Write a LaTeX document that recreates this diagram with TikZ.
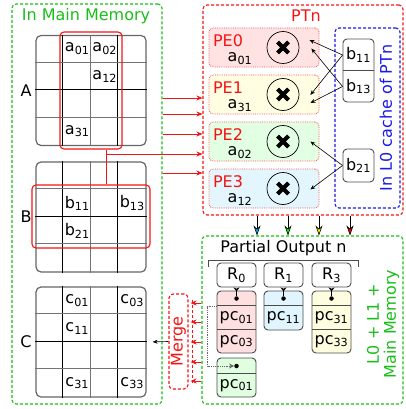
\documentclass[tikz,border=0pt]{standalone}
\usepackage{fontspec}
\setmainfont{DejaVu Sans}
\usetikzlibrary{arrows.meta, positioning, calc}
\definecolor{memgreen}{RGB}{25,190,25}
\definecolor{ptred}{RGB}{245,20,20}
\definecolor{l0blue}{RGB}{25,25,235}
\newcommand{\ix}[2]{#1\textsubscript{#2}}

\begin{document}
\begin{tikzpicture}[x=1pt, y=-1pt,
        font=\fontsize{16}{17}\selectfont,
        region/.style={rectangle, line width=1.1pt, rounded corners=4pt, dash pattern=on 3pt off 2pt},
        matbox/.style={rectangle, draw=black!60, line width=1.2pt, rounded corners=5pt, minimum size=110pt, inner sep=0pt},
        pick/.style={rectangle, draw=ptred, line width=1.1pt, rounded corners=4pt, inner sep=0pt},
        feed/.style={-{Stealth[length=6pt, width=5pt]}, ptred, line width=0.9pt},
        pebox/.style={rectangle, draw=ptred!75, densely dotted, line width=0.8pt, rounded corners=4pt, minimum width=110pt, minimum height=39pt},
        mult/.style={circle, draw=black, line width=0.7pt, minimum size=32pt, inner sep=0pt,
                     path picture={\draw[black, line width=4.2pt]
                        ($(path picture bounding box.center)+(-5.5pt,-5.5pt)$) -- ($(path picture bounding box.center)+(5.5pt,5.5pt)$)
                        ($(path picture bounding box.center)+(-5.5pt,5.5pt)$) -- ($(path picture bounding box.center)+(5.5pt,-5.5pt)$);}},
        bcellbox/.style={rectangle, draw=black!70, line width=0.9pt, rounded corners=4pt, minimum width=31pt, inner sep=0pt},
        bfeed/.style={-{Stealth[length=5pt, width=4pt]}, black, line width=0.6pt},
        rbox/.style={rectangle, draw=black!70, line width=0.9pt, rounded corners=4pt, fill=white, minimum width=39pt, minimum height=24pt, inner sep=0pt},
        pcblock/.style={rectangle, draw=black!70, line width=0.9pt, rounded corners=4pt, minimum width=39pt, inner sep=0pt},
        pcline/.style={black!70, line width=0.9pt},
        dot/.style={circle, fill=black, inner sep=0pt, minimum size=4.5pt},
        rlink/.style={{Stealth[length=4pt, width=6pt, reversed]}-, black, line width=0.8pt},
        mfeed/.style={-{Stealth[length=6pt, width=5pt]}, ptred, line width=0.8pt}
    ]
    \useasboundingbox (0,0) rectangle (405,409);

    % main memory side
    \node[region, draw=memgreen, minimum width=150pt, minimum height=400pt] (mainmem) at (87,204) {};
    \node[memgreen] (memtitle) at (86,16.5) {In Main Memory};

    \node[matbox] (matA) at (91,90.5) {};
    \node[matbox] (matB) at (91,217) {};
    \node[matbox] (matC) at (91,342) {};
    \foreach \m in {matA, matB, matC} {
        \foreach \k/\s in {1/black, 2/black!55, 3/black} {
            \draw[\s, line width=0.9pt] ($(\m.north west)+(27.5*\k,0)$) -- ($(\m.south west)+(27.5*\k,0)$);
        }
        \foreach \k/\s in {1/black!55, 2/black, 3/black!55} {
            \draw[\s, line width=0.9pt] ($(\m.north west)+(0,27.5*\k)$) -- ($(\m.north east)+(0,27.5*\k)$);
        }
    }
    \node (labA) at (26,90.5) {A};
    \node (labB) at (26,217) {B};
    \node (labC) at (26,342) {C};

    \node (a01) at (77.25,48.75) {\ix{a}{01}};
    \node (a02) at (104.75,48.75) {\ix{a}{02}};
    \node (a12) at (104.75,76.25) {\ix{a}{12}};
    \node (a31) at (77.25,131.25) {\ix{a}{31}};
    \node (b11) at (77.25,203.25) {\ix{b}{11}};
    \node (b13) at (132.25,203.25) {\ix{b}{13}};
    \node (b21) at (77.25,230.75) {\ix{b}{21}};
    \node (c01) at (77.25,300.75) {\ix{c}{01}};
    \node (c03) at (132.25,300.75) {\ix{c}{03}};
    \node (c11) at (77.25,328.25) {\ix{c}{11}};
    \node (c31) at (77.25,383.25) {\ix{c}{31}};
    \node (c33) at (132.25,383.25) {\ix{c}{33}};

    \node[pick, minimum width=62pt, minimum height=117pt] (pickA) at (91,90.5) {};
    \node[pick, minimum width=118pt, minimum height=63pt] (pickB) at (91,216.5) {};

    % PTn
    \node[region, draw=ptred, minimum width=200pt, minimum height=210pt] (ptn) at (303,110) {};
    \node[ptred] (ptntitle) at (306,16) {PTn};

    \coordinate (abjoin) at (106.5,154);
    \draw[ptred, line width=0.9pt] (abjoin |- pickA.south) -- (abjoin |- pickB.north);
    \draw[feed] (abjoin) -- (abjoin -| ptn.west);
    \foreach \y in {98,114,134,173} {
        \coordinate (tap) at (0,\y);
        \draw[feed] (mainmem.east |- tap) -- (ptn.west |- tap);
    }

    \foreach \i/\y/\c/\a in {0/47.5/red/01, 1/94.5/yellow/31, 2/141.5/green/02, 3/188.5/cyan/12} {
        \node[pebox, fill=\c!11] (pe\i) at (264,\y) {};
        \node[ptred] (pelab\i) at (228,\y-7) {PE\i};
        \node (pea\i) at (240,\y+11) {\ix{a}{\a}};
        \node[mult] (mul\i) at (283,\y) {};
    }

    \node[region, draw=l0blue, minimum width=65pt, minimum height=180pt] (cache) at (367.5,118) {};
    \node[l0blue, rotate=90] (cachetitle) at (386,118) {In L0 cache of PTn};

    \node[bcellbox, minimum height=63pt] (cbpair) at (358.5,70.5) {};
    \draw[pcline] (cbpair.west) -- (cbpair.east);
    \node (cb11) at (358.5,55) {\ix{b}{11}};
    \node (cb13) at (358.5,86.5) {\ix{b}{13}};
    \node[bcellbox, minimum height=33pt] (cb21) at (358.5,165.5) {\ix{b}{21}};

    \draw[bfeed] (cbpair.west |- cb11) -- ($(mul0.east)+(10,-7.5)$);
    \draw[bfeed] (cbpair.west |- cb11) -- ($(mul1.east)+(11,0.5)$);
    \draw[bfeed] (cbpair.west |- cb13) -- ($(mul0.east)+(12,1)$);
    \draw[bfeed] (cbpair.west |- cb13) -- ($(mul1.east)+(11,8.5)$);
    \draw[bfeed] (cb21.west) -- ($(mul2.east)+(11,0)$);
    \draw[bfeed] (cb21.west) -- ($(mul3.east)+(11,1)$);

    % partial output
    \node[region, draw=memgreen, minimum width=201pt, minimum height=168pt] (part) at (302.5,320) {};
    \node (parttitle) at (283.5,248.5) {Partial Output n};
    \node[memgreen, rotate=90, align=center] (partmem) at (383,324) {L0 + L1 +\\Main Memory};

    \foreach \x/\c in {257/cyan, 288/green, 319/yellow, 350/red} {
        \coordinate (tap) at (\x,0);
        \draw[-{Stealth[length=10pt, width=7pt, fill=\c]}, black, line width=0.6pt] (ptn.south -| tap) -- (part.north -| tap);
    }

    \draw[black!70, line width=1pt] (208,267) -- (208,260) -- (358,260) -- (358,267);

    \node[rbox] (r0) at (236.5,275) {\ix{R}{0}};
    \node[rbox] (r1) at (283.5,275) {\ix{R}{1}};
    \node[rbox] (r3) at (331.5,275) {\ix{R}{3}};

    \node[pcblock, fill=red!12, minimum height=62pt] (blk0) at (236.5,322) {};
    \node[pcblock, fill=cyan!12, minimum height=39pt] (blk1) at (283.5,310.5) {};
    \node[pcblock, fill=yellow!12, minimum height=62pt] (blk3) at (331.5,322) {};
    \node[pcblock, fill=green!12, minimum height=39pt] (blkm) at (236.5,377.5) {};
    \foreach \b in {blk0, blk1, blk3} {
        \draw[pcline] ($(\b.north west)+(0,15)$) -- ($(\b.north east)+(0,15)$);
    }
    \draw[pcline] ($(blk0.north west)+(0,39)$) -- ($(blk0.north east)+(0,39)$);
    \draw[pcline] ($(blk3.north west)+(0,39)$) -- ($(blk3.north east)+(0,39)$);
    \draw[pcline] ($(blkm.north west)+(0,16)$) -- ($(blkm.north east)+(0,16)$);

    \node (pc01) at (236.5,318) {\ix{pc}{01}};
    \node (pc03) at (236.5,341.5) {\ix{pc}{03}};
    \node (pc11) at (283.5,318) {\ix{pc}{11}};
    \node (pc31) at (331.5,318) {\ix{pc}{31}};
    \node (pc33) at (331.5,341.5) {\ix{pc}{33}};
    \node (pcm01) at (236.5,385.5) {\ix{pc}{01}};

    \node[dot] (d0) at (236.5,298.5) {};
    \node[dot] (d1) at (283.5,298.5) {};
    \node[dot] (d3) at (331.5,298.5) {};
    \node[dot] (dm) at (236.5,366) {};
    \draw[rlink] (r0.south) -- (d0);
    \draw[rlink] (r1.south) -- (d1);
    \draw[rlink] (r3.south) -- (d3);
    \draw[black!60, densely dotted, line width=0.8pt, -{Stealth[length=5pt, width=5pt]}]
        ($(blk0.north west)+(0,16)$) -- ++(-9,0) |- (dm);

    % merge
    \node[region, draw=ptred, minimum width=19pt, minimum height=95pt] (merge) at (178.5,341.5) {};
    \node[ptred, rotate=90] (mergetxt) at (merge) {Merge};
    \draw[ptred, line width=0.8pt, dash pattern=on 3pt off 2pt] (192,300) -- (192,383);
    \foreach \y in {303,322,342,362,381} {
        \coordinate (tap) at (0,\y);
        \draw[mfeed] (part.west |- tap) -- ($(merge.east |- tap)+(2,0)$);
    }
    \draw[-{Stealth[length=5pt, width=4pt]}, black, line width=0.6pt, shorten >=6pt] (merge.west) -- (matC.east);
\end{tikzpicture}
\end{document}
